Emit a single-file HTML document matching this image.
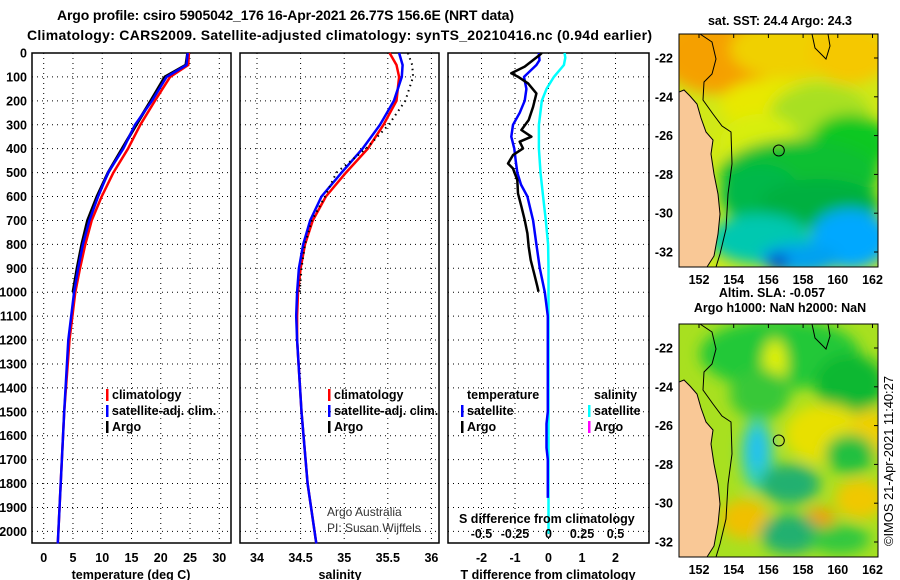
<!DOCTYPE html>
<html><head><meta charset="utf-8"><style>
html,body{margin:0;padding:0;background:#fff}
svg{display:block;font-family:"Liberation Sans",Arial,sans-serif}
.b{font-weight:bold;font-size:12.5px;fill:#000}
</style></head><body>
<svg id="c" width="900" height="580" viewBox="0 0 900 580">
<defs>
<filter id="bl" x="-20%" y="-20%" width="140%" height="140%"><feGaussianBlur stdDeviation="7"/></filter>
<clipPath id="m1c"><rect x="679" y="34" width="199" height="233"/></clipPath>
<clipPath id="m2c"><rect x="679" y="324" width="199" height="233"/></clipPath>
</defs>
<text x="57" y="20" class="b" style="font-size:14px" textLength="457">Argo profile: csiro 5905042_176 16-Apr-2021 26.77S 156.6E (NRT data)</text>
<text x="27" y="40" class="b" style="font-size:14px" textLength="625">Climatology: CARS2009. Satellite-adjusted climatology: synTS_20210416.nc (0.94d earlier)</text>
<g id="plots"></g>
<g id="maps"></g>
<text transform="translate(893,546) rotate(-90)" class="b" style="font-weight:normal;font-size:13px" textLength="170">©IMOS 21-Apr-2021 11:40:27</text>
</svg>
<script>
// ---- data ----
const depths = [0,50,100,200,300,400,500,600,700,800,900,1000,1100,1200,1500,1800,2050];
const tClim = [24.8,24.7,21.6,19.0,16.5,14.4,11.9,9.9,8.2,7.1,6.2,5.4,4.9,4.4,3.5,2.9,2.4];
const tSat  = [24.6,24.4,21.0,18.5,15.6,13.6,11.0,9.3,7.8,6.7,5.9,5.2,4.7,4.2,3.5,2.9,2.4];
const argoDepths = [0,50,100,200,300,400,500,600,700,800,900,1000];
const tArgo = [24.6,24.3,20.7,18.3,15.8,13.4,11.0,9.1,7.5,6.5,5.7,5.0];
const sClim = [35.52,35.60,35.63,35.60,35.45,35.27,35.02,34.79,34.64,34.55,34.50,34.47,34.46,34.46,34.51,34.58,34.68];
const sSat  = [35.63,35.67,35.66,35.57,35.41,35.21,34.97,34.74,34.61,34.53,34.48,34.46,34.45,34.46,34.51,34.58,34.68];
const sArgo = [35.73,35.78,35.79,35.70,35.51,35.25,34.91,34.78,34.63,34.55,34.51,34.49];
const dtSatDepths = [0,30,50,100,150,200,250,300,350,400,450,500,550,600,700,800,900,1000,1100,1500,1550,1650,1700,1860];
const dtSat = [-0.29,-0.27,-0.36,-0.73,-0.66,-0.71,-0.86,-1.06,-1.11,-1.02,-0.98,-0.93,-0.82,-0.63,-0.46,-0.36,-0.26,-0.11,-0.02,-0.02,-0.06,-0.06,-0.02,-0.02];
const dtArgoDepths = [0,8,57,85,99,127,169,225,280,322,350,371,399,427,462,483,531,587,642,698,754,810,866,921,977,998];
const dtArgo = [-0.2,-0.26,-0.71,-1.11,-0.91,-0.61,-0.36,-0.46,-0.59,-0.81,-0.51,-0.86,-0.76,-1.06,-1.21,-1.06,-0.93,-0.91,-0.81,-0.71,-0.63,-0.59,-0.53,-0.43,-0.33,-0.3];
const dsSatDepths = [0,20,50,100,150,200,300,400,500,600,700,800,900,1200,1600,2010];
const dsSat = [0.12,0.125,0.115,0.04,-0.015,-0.05,-0.072,-0.072,-0.06,-0.04,-0.02,-0.003,0.0,0.0,0.0,0.0];
const depthTicks = [0,100,200,300,400,500,600,700,800,900,1000,1100,1200,1300,1400,1500,1600,1700,1800,1900,2000];
const tTicks = [0,5,10,15,20,25,30];
const sTicks = [34,34.5,35,35.5,36];
const sTickLabels = ["34","34.5","35","35.5","36"];
const dTTicks = [-2,-1,0,1,2];
const dSTicks = [-0.5,-0.25,0,0.25,0.5];
const dSTickLabels = ["-0.5","-0.25","0","0.25","0.5"];
const lonTicks = [152,154,156,158,160,162];
const latTicks = [-22,-24,-26,-28,-30,-32];

const NS = "http://www.w3.org/2000/svg";
function mk(tag, attrs, parent, txt){
  const e = document.createElementNS(NS, tag);
  for (const k in attrs) e.setAttribute(k, attrs[k]);
  if (txt !== undefined) e.textContent = txt;
  parent.appendChild(e);
  return e;
}
const plots = document.getElementById('plots');
const Y = d => 53 + d * 0.2392;
const P = [
  {x0:32, x1:231, lo:-2, hi:32},
  {x0:240, x1:439, lo:33.805, hi:36.087},
  {x0:448, x1:649, lo:-3, hi:3}
];
const X = (p, v) => p.x0 + (v - p.lo) / (p.hi - p.lo) * (p.x1 - p.x0);
const XS = v => X(P[2], v * 4);

function panel(p, name, ticks, labels){
  const g = mk('g', {}, plots);
  
  
  depthTicks.forEach(d => {
    if (d === 0) return;
    const l = mk('line', {x1:p.x0, x2:p.x1, y1:Y(d), y2:Y(d), stroke:'#000', 'stroke-width':1, 'stroke-dasharray':'1,4'}, g);
    
    
  });
  ticks.forEach((t, i) => {
    const x = X(p, t);
    const l = mk('line', {x1:x, x2:x, y1:53, y2:543, stroke:'#000', 'stroke-width':1, 'stroke-dasharray':'1,4'}, g);
    
    
    if (labels) {
      const tx = mk('text', {x:x, y:562, 'text-anchor':'middle', class:'b'}, g, labels[i]);
      
      
    }
  });
  const r = mk('rect', {x:p.x0, y:53, width:p.x1 - p.x0, height:490, fill:'none', stroke:'#000', 'stroke-width':1.5}, g);
  
  
  return g;
}
const g1 = panel(P[0], 'temperature-panel', tTicks, tTicks.map(String));
const g2 = panel(P[1], 'salinity-panel', sTicks, sTickLabels);
const g3 = panel(P[2], 'difference-panel', dTTicks, dTTicks.map(String));

depthTicks.forEach(d => {
  const t = mk('text', {x:27, y:Y(d) + 4.5, 'text-anchor':'end', class:'b'}, plots, String(d));
  
  
});

function line(g, xs, ds, xf, color, w, name, dash){
  const pts = ds.map((d, i) => xf(xs[i]).toFixed(1) + ',' + Y(d).toFixed(1)).join(' ');
  const a = {points:pts, fill:'none', stroke:color, 'stroke-width':w, 'stroke-linejoin':'round'};
  if (dash) a['stroke-dasharray'] = dash;
  const e = mk('polyline', a, g);
  
  
}
line(g1, tArgo, argoDepths, v => X(P[0], v), '#000', 3, 'argo-temperature-line');
line(g1, tClim, depths, v => X(P[0], v), '#f00', 2.5, 'climatology-temperature-line');
line(g1, tSat, depths, v => X(P[0], v), '#00f', 2.5, 'satellite-temperature-line');
line(g2, sClim, depths, v => X(P[1], v), '#f00', 2.5, 'climatology-salinity-line');
line(g2, sSat, depths, v => X(P[1], v), '#00f', 2.5, 'satellite-salinity-line');
line(g2, sArgo, argoDepths, v => X(P[1], v), '#000', 2, 'argo-salinity-line', '1.5,4');
line(g3, dsSat, dsSatDepths, XS, '#00ffff', 2.5, 'salinity-satellite-diff-line');
line(g3, dtSat, dtSatDepths, v => X(P[2], v), '#00f', 2.5, 'temperature-satellite-diff-line');
line(g3, dtArgo, dtArgoDepths, v => X(P[2], v), '#000', 2.5, 'temperature-argo-diff-line');

function legend(g, x, y, color, label, name){
  if (color) {
    const r = mk('rect', {x:x - 6, y:y - 10, width:2.5, height:12, fill:color}, g);
    
    
  }
  const t = mk('text', {x:x, y:y, class:'b'}, g, label);
  
  
}
legend(g1, 112, 399, '#f00', 'climatology', 'legend-climatology');
legend(g1, 112, 415, '#00f', 'satellite-adj. clim.', 'legend-satellite');
legend(g1, 112, 431, '#000', 'Argo', 'legend-argo');
legend(g2, 334, 399, '#f00', 'climatology', 'legend-climatology');
legend(g2, 334, 415, '#00f', 'satellite-adj. clim.', 'legend-satellite');
legend(g2, 334, 431, '#000', 'Argo', 'legend-argo');
legend(g3, 467, 399, null, 'temperature', 'legend-temperature-header');
legend(g3, 467, 415, '#00f', 'satellite', 'legend-t-satellite');
legend(g3, 467, 431, '#000', 'Argo', 'legend-t-argo');
legend(g3, 594, 399, null, 'salinity', 'legend-salinity-header');
legend(g3, 594, 415, '#00ffff', 'satellite', 'legend-s-satellite');
legend(g3, 594, 431, '#ff00ff', 'Argo', 'legend-s-argo');

let t;
t = mk('text', {x:459, y:523, class:'b'}, g3, 'S difference from climatology');


dSTicks.forEach((s, i) => {
  const tx = mk('text', {x:XS(s), y:538, 'text-anchor':'middle', class:'b'}, g3, dSTickLabels[i]);
  
  
});
t = mk('text', {x:131, y:579, 'text-anchor':'middle', class:'b'}, plots, 'temperature (deg C)');


t = mk('text', {x:340, y:579, 'text-anchor':'middle', class:'b'}, plots, 'salinity');


t = mk('text', {x:548, y:579, 'text-anchor':'middle', class:'b'}, plots, 'T difference from climatology');


t = mk('text', {x:327, y:516, style:'font-size:12px;fill:#333'}, plots, 'Argo Australia');


t = mk('text', {x:327, y:532, style:'font-size:12px;fill:#333'}, plots, 'PI: Susan Wijffels');



// ---- maps ----
const maps = document.getElementById('maps');
const LX = lon => 699 + (lon - 152) * 17.35;
function drawMap(top, clip, blobs, base, name, title, titleY){
  const g = mk('g', {}, maps);
  
  
  const LY = lat => top + 24 + (-22 - lat) * 19.4;
  const inner = mk('g', {'clip-path':'url(#' + clip + ')'}, g);
  mk('rect', {x:679, y:top, width:199, height:233, fill:base}, inner);
  const bg = mk('g', {filter:'url(#bl)'}, inner);
  blobs.forEach(b => mk('ellipse', {cx:b[0], cy:top + b[1], rx:b[2], ry:b[3], fill:b[4]}, bg));
  const land = 'M679,' + (top+58) + ' L684,' + (top+56) + ' L690,' + (top+62) + ' L697,' + (top+70) + ' L701,' + (top+84) + ' L706,' + (top+98) + ' L713,' + (top+106) + ' L711,' + (top+120) + ' L714,' + (top+140) + ' L718,' + (top+160) + ' L720,' + (top+180) + ' L718,' + (top+200) + ' L714,' + (top+222) + ' L707,' + (top+233) + ' L679,' + (top+233) + ' Z';
  const lp = mk('path', {d:land, fill:'#f9c896', stroke:'#000', 'stroke-width':1}, inner);
  
  
  const iso = 'M700,' + top + ' L712,' + (top+8) + ' L716,' + (top+25) + ' L712,' + (top+40) + ' L704,' + (top+48) + ' L703,' + (top+66) + ' L713,' + (top+80) + ' L722,' + (top+92) + ' L731,' + (top+98) + ' L732,' + (top+130) + ' L728,' + (top+160) + ' L726,' + (top+195) + ' L720,' + (top+220) + ' L716,' + (top+233);
  mk('path', {d:iso, fill:'none', stroke:'#000', 'stroke-width':1}, inner);
  mk('path', {d:'M812,' + top + ' L815,' + (top+14) + ' L826,' + (top+25) + ' L830,' + (top+12) + ' L828,' + top, fill:'none', stroke:'#000', 'stroke-width':1}, inner);
  const c = mk('circle', {cx:LX(156.6), cy:LY(-26.77), r:5.5, fill:'none', stroke:'#000', 'stroke-width':1}, g);
  
  
  mk('rect', {x:679, y:top, width:199, height:233, fill:'none', stroke:'#000', 'stroke-width':1}, g);
  lonTicks.forEach(lon => {
    mk('line', {x1:LX(lon), x2:LX(lon), y1:top, y2:top + 4, stroke:'#000'}, g);
    const tx = mk('text', {x:LX(lon), y:top + 250, 'text-anchor':'middle', class:'b'}, g, String(lon));
    
    
  });
  latTicks.forEach(lat => {
    mk('line', {x1:874, x2:878, y1:LY(lat), y2:LY(lat), stroke:'#000'}, g);
    const tx = mk('text', {x:673, y:LY(lat) + 4.5, 'text-anchor':'end', class:'b'}, g, String(lat));
    
    
  });
  const tt = mk('text', {x:780, y:titleY, 'text-anchor':'middle', class:'b'}, g, title);
  
  
}
drawMap(34, 'm1c', [
  [720, 20, 60, 40, '#f5a000'], [790, 15, 60, 30, '#f0d000'], [850, 20, 40, 30, '#f5c800'],
  [770, 70, 50, 25, '#e8e800'], [820, 80, 50, 30, '#a8e020'],
  [760, 110, 40, 30, '#d8ee10'], [850, 110, 40, 30, '#10c820'],
  [800, 140, 80, 35, '#10c030'], [760, 160, 40, 30, '#00b848'],
  [820, 170, 60, 25, '#00b040'], [760, 205, 50, 25, '#00c8b0'],
  [850, 205, 40, 30, '#00a8ff'], [800, 225, 40, 15, '#00a0f0'], [778, 228, 10, 8, '#0040c0']
], '#d0e818', 'sst-map', 'sat. SST: 24.4 Argo: 24.3', 25);
drawMap(324, 'm2c', [
  [780, 30, 80, 35, '#20c838'], [775, 40, 12, 25, '#e0f000'],
  [850, 60, 35, 30, '#10b830'], [760, 70, 30, 25, '#38c838'],
  [825, 110, 40, 30, '#e8e000'], [870, 110, 20, 25, '#f0d000'],
  [757, 130, 16, 35, '#30d0c0'], [757, 125, 9, 20, '#20c0f0'],
  [790, 160, 30, 20, '#20b070'], [850, 130, 25, 20, '#20c040'],
  [860, 175, 25, 20, '#f0c800'], [820, 195, 15, 12, '#f0a000'],
  [745, 195, 25, 20, '#f0c000'], [790, 210, 30, 20, '#20b070'], [840, 215, 30, 15, '#30c840']
], '#a8e020', 'sla-map', 'Argo h1000: NaN h2000: NaN', 312);
t = mk('text', {x:772, y:297, 'text-anchor':'middle', class:'b'}, maps, 'Altim. SLA: -0.057');


</script>
</body></html>
